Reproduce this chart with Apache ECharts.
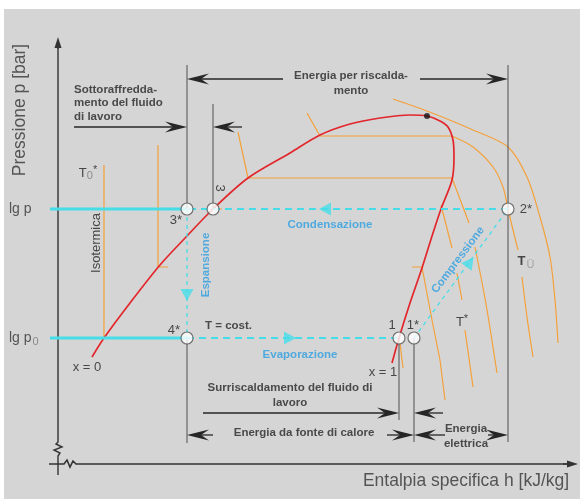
<!DOCTYPE html>
<html>
<head>
<meta charset="utf-8">
<script src="https://cdn.jsdelivr.net/npm/echarts@6/dist/echarts.min.js"></script>
<style>
  html, body { margin: 0; padding: 0; background: #ffffff; }
  #chart { width: 580px; height: 499px; }
</style>
</head>
<body>
<div id="chart"></div>
<script>
// Schematic lg p – h diagram of a heat-pump cycle.
// Schematic units: h measured from the pressure axis, p measured up from the enthalpy axis.

const P_HIGH = 255;   // lg p  : condensing pressure
const P_LOW = 126;    // lg p0 : evaporating pressure

// Cycle state points
const stateNames = ['1', '1*', '2*', '3', '3*', '4*'];
const stateH     = [341, 356, 450, 155, 129, 129];
const stateP     = [P_LOW, P_LOW, P_HIGH, P_HIGH, P_HIGH, P_LOW];

const criticalPoint = [369, 348];

// Saturation curve: liquid branch (x = 0) up to the critical point, vapour branch (x = 1) down
const saturationCurve = [
  [34, 107], [46, 126], [72, 161], [102, 199], [129, 228], [155, 255], [190, 286],
  [232, 311], [262, 329], [292, 340], [322, 346], [352, 349], [369, 348], [382, 343],
  [390, 337], [395, 324], [396, 307], [394, 284], [383, 255], [375, 231], [364, 196],
  [352, 161], [341, 126], [334, 101]
];

// Isotherms (drawn piecewise, as in the schematic)
const isoT0Liquid    = [[46, 299], [46, 126], [54, 126]];
const isoT0Vapour    = [[342, 121], [345, 96]];
const isoMidLiquid   = [[100, 319], [100, 197], [110, 197]];
const isoMidVapour   = [[354, 197], [364, 197], [374, 144], [382, 104], [387, 64]];
const isoCondTick    = [[155, 255], [164, 255]];
const isoUpperDome   = [[180, 332], [190, 286], [394, 286], [411, 241]];
const isoTopDome     = [[249, 351], [262, 328], [394, 328]];
const isoTopVapourA  = [[394, 328], [415, 317], [435, 297], [445, 277], [450, 255], [455, 234], [460, 214]];
const isoTopVapourB  = [[464, 187], [469, 147], [475, 107]];
const isoOuter       = [[335, 365], [369, 353], [415, 334], [450, 317], [469, 287], [482, 247], [492, 207], [497, 164], [500, 121]];
const isoShortA      = [[383, 259], [394, 216]];
const isoStarA       = [[399, 191], [404, 164]];
const isoStarB       = [[407, 134], [415, 77]];
const isoRight       = [[417, 217], [428, 160], [439, 91]];

// Flow direction markers along the cycle: [h, p, direction in degrees (0 = up, CCW positive)]
const flowMarkers = [
  [267, P_HIGH, 90],    // condensation, flowing left
  [232, P_LOW, -90],    // evaporation, flowing right
  [129, 169, 180],      // expansion, flowing down
  [412, 202, -36]       // compression, up-right
];

// Reference verticals
const verticalLines = [
  [[129, 399], [129, P_HIGH]],
  [[129, P_LOW], [129, 21]],
  [[155, 360], [155, P_HIGH]],
  [[450, 399], [450, 22]],
  [[341, P_LOW], [341, 44]],
  [[356, P_LOW], [356, 22]]
];

// Dimension arrows: [from, to] with the head at "to"
const dimensionArrows = [
  [[225, 385], [129, 385]],
  [[362, 385], [450, 385]],
  [[16, 337], [129, 337]],
  [[184, 337], [155, 337]],
  [[145, 51], [341, 51]],
  [[385, 51], [356, 51]],
  [[155, 29], [129, 29]],
  [[329, 29], [356, 29]],
  [[387, 29], [356, 29]],
  [[430, 29], [450, 29]]
];

// Axes (with break marks near the origin)
const pressureAxis = [[0, -11], [0, 8], [2, 11], [-4, 14], [4, 17], [-2, 20], [0, 22], [0, 420]];
const enthalpyAxis = [[-9, 0], [6, 0], [9, 4], [12, -3], [15, 3], [18, 0], [512, 0]];
const axisHeads = [
  [[0, 415], [0, 427]],
  [[505, 0], [520, 0]]
];

// Texts
const axisTitles = [
  ['Pressione p [bar]', -38, 354, 90],
  ['Entalpia specifica h [kJ/kg]', 408, -17, 0]
];
const pressureLabels = [
  ['lg p', -49, P_HIGH],
  ['lg p{sub|0}', -49, P_LOW]
];
const leftNotes = [
  ['Sottoraffredda-\nmento del fluido\ndi lavoro', 16, 361],
  ['T = cost.', 147, 138]
];
const centerNotes = [
  ['Energia per riscalda-\nmento', 293, 381],
  ['Surriscaldamento del fluido di\nlavoro', 232, 69],
  ['Energia da fonte di calore', 246, 31],
  ['Energia\nelettrica', 408, 28]
];
const processLabels = [
  ['Condensazione', 272, 239, 0],
  ['Evaporazione', 242, 109, 0],
  ['Espansione', 148, 199, 90],
  ['Compressione', 400, 204, 53]
];
const stateLabels = [
  ['3*', 118, 244, 0],
  ['3', 162, 276, -90],
  ['4*', 116, 134, 0],
  ['1', 334, 139, 0],
  ['1*', 355, 139, 0],
  ['2*', 468, 255, 0],
  ['x = 0', 29, 97, 0],
  ['x = 1', 325, 92, 0],
  ['T{sub|0}{sup|*}', 30, 291, 0],
  ['Isotermica', 38, 221, 90],
  ['T{sup|*}', 404, 142, 0],
  ['{b|T}{sub2|Ü}', 468, 203, 0]
];

// ---------------------------------------------------------------------------

const FONT = '"Liberation Sans", Arial, Helvetica, sans-serif';
const RED = '#e3262b';
const ORANGE = '#f4a13a';
const CYAN = '#47dde8';
const BLUE = '#2d9fe2';
const INK = '#262626';
const GREY_LINE = '#666666';

function polyline(data, color, width, opts) {
  opts = opts || {};
  return {
    type: 'line', data, silent: true, symbol: 'none', showSymbol: false,
    smooth: opts.smooth || false, z: opts.z || 2, animation: false,
    lineStyle: { color, width, type: opts.dash || 'solid', cap: 'butt' }
  };
}

// A polyline drawn as a single custom element (used for the broken axes)
function pathSeries(points, color, width, z) {
  return {
    type: 'custom', silent: true, z: z || 3, animation: false,
    data: [points[0]],
    renderItem(params, api) {
      return {
        type: 'polyline',
        shape: { points: points.map(pt => api.coord(pt)) },
        style: { stroke: color, lineWidth: width, fill: null }
      };
    }
  };
}

function arrowSeries(segments, head, color, width, z) {
  return {
    type: 'custom', silent: true, z: z || 5, animation: false,
    data: segments.map(s => [s[0][0], s[0][1], s[1][0], s[1][1]]),
    renderItem(params, api) {
      const a = api.coord([api.value(0), api.value(1)]);
      const b = api.coord([api.value(2), api.value(3)]);
      const dx = b[0] - a[0], dy = b[1] - a[1];
      const len = Math.hypot(dx, dy) || 1;
      const ux = dx / len, uy = dy / len, nx = -uy, ny = ux;
      const back = [b[0] - ux * head.len, b[1] - uy * head.len];
      const notch = [b[0] - ux * (head.len - head.notch), b[1] - uy * (head.len - head.notch)];
      const pts = [
        b,
        [back[0] + nx * head.half, back[1] + ny * head.half],
        notch,
        [back[0] - nx * head.half, back[1] - ny * head.half]
      ];
      return {
        type: 'group',
        children: [
          { type: 'line', shape: { x1: a[0], y1: a[1], x2: notch[0], y2: notch[1] },
            style: { stroke: color, lineWidth: width } },
          { type: 'polygon', shape: { points: pts }, style: { fill: color } }
        ]
      };
    }
  };
}

function textSeries(items, label, z) {
  return {
    type: 'scatter', silent: true, symbolSize: 0, z: z || 10, animation: false,
    data: items.map(t => ({
      value: [t[1], t[2]], name: t[0],
      label: { rotate: t[3] || 0 }
    })),
    label: Object.assign({ show: true, position: 'inside', fontFamily: FONT,
      formatter: p => p.name }, label)
  };
}

const state = name => {
  const i = stateNames.indexOf(name);
  return [stateH[i], stateP[i]];
};

const series = [
  // axes
  pathSeries(pressureAxis, '#333', 1.4, 3),
  pathSeries(enthalpyAxis, '#333', 1.6, 3),
  arrowSeries(axisHeads, { len: 11, half: 3.5, notch: 0 }, '#333', 1.4, 3),

  // isotherms
  ...[isoT0Liquid, isoT0Vapour, isoMidLiquid, isoMidVapour, isoCondTick, isoUpperDome,
      isoTopDome, isoShortA, isoStarA, isoStarB].map(d => polyline(d, ORANGE, 1.2, { z: 2 })),
  ...[isoTopVapourA, isoTopVapourB, isoOuter, isoRight].map(d => polyline(d, ORANGE, 1.2, { z: 2, smooth: 0.3 })),

  // saturation curve
  polyline(saturationCurve, RED, 1.7, { z: 4, smooth: 0.3 }),

  // reference verticals and dimension arrows
  ...verticalLines.map(d => polyline(d, GREY_LINE, 1.2, { z: 3 })),
  arrowSeries(dimensionArrows, { len: 22, half: 5.5, notch: 8 }, INK, 1.3, 5),

  // pressure levels
  polyline([[-8, P_HIGH], state('3*')], CYAN, 3, { z: 5 }),
  polyline([[-8, P_LOW], state('4*')], CYAN, 3, { z: 5 }),
  // cycle
  polyline([state('2*'), state('3*')], CYAN, 2, { z: 5, dash: [7, 5] }),
  polyline([state('3*'), state('4*')], CYAN, 1.3, { z: 5, dash: [4, 4] }),
  polyline([state('4*'), state('1')], CYAN, 2, { z: 5, dash: [7, 5] }),
  polyline([state('1*'), state('2*')], CYAN, 1.3, { z: 5, dash: [4, 4] }),
  {
    type: 'scatter', silent: true, z: 6, animation: false,
    symbol: 'triangle', symbolSize: [13, 12],
    itemStyle: { color: CYAN },
    data: flowMarkers.map(m => ({ value: [m[0], m[1]], symbolRotate: m[2] }))
  },

  // state points
  {
    type: 'scatter', silent: true, z: 7, animation: false,
    symbol: 'circle', symbolSize: 12,
    itemStyle: { color: '#ffffff', borderColor: '#555', borderWidth: 1.2 },
    data: stateNames.map((n, i) => [stateH[i], stateP[i]])
  },
  {
    type: 'scatter', silent: true, z: 7, animation: false,
    symbol: 'circle', symbolSize: 6, itemStyle: { color: '#111' },
    data: [criticalPoint]
  },

  // texts
  textSeries(axisTitles, { fontSize: 17.5, color: '#333' }),
  textSeries(pressureLabels, { fontSize: 14, color: '#333', align: 'left',
    rich: { sub: { fontSize: 11, color: '#777', verticalAlign: 'bottom', padding: [7, 0, 0, 1] } } }),
  textSeries(leftNotes, { fontSize: 11.5, fontWeight: 'bold', color: INK, align: 'left', lineHeight: 13.5 }),
  textSeries(centerNotes, { fontSize: 11.5, fontWeight: 'bold', color: INK, align: 'center', lineHeight: 15 }),
  textSeries(processLabels, { fontSize: 11.5, fontWeight: 'bold', color: BLUE }),
  textSeries(stateLabels, { fontSize: 13, color: '#222',
    rich: {
      b: { fontSize: 13, fontWeight: 'bold', color: '#222' },
      sub: { fontSize: 11, color: '#777', padding: [6, 0, 0, 0] },
      sub2: { fontSize: 11, color: '#999', padding: [8, 0, 0, 1] },
      sup: { fontSize: 11, color: '#222', padding: [0, 0, 6, 0] }
    } })
];

const chart = echarts.init(document.getElementById('chart'), null, { renderer: 'canvas' });
chart.setOption({
  animation: false,
  backgroundColor: '#ffffff',
  grid: { left: 4, top: 9, right: 0, bottom: 0, show: true, backgroundColor: '#d5d5d5', borderWidth: 0 },
  xAxis: { type: 'value', min: -54, max: 522, show: false },
  yAxis: { type: 'value', min: -35, max: 455, show: false },
  series
});
</script>
</body>
</html>
